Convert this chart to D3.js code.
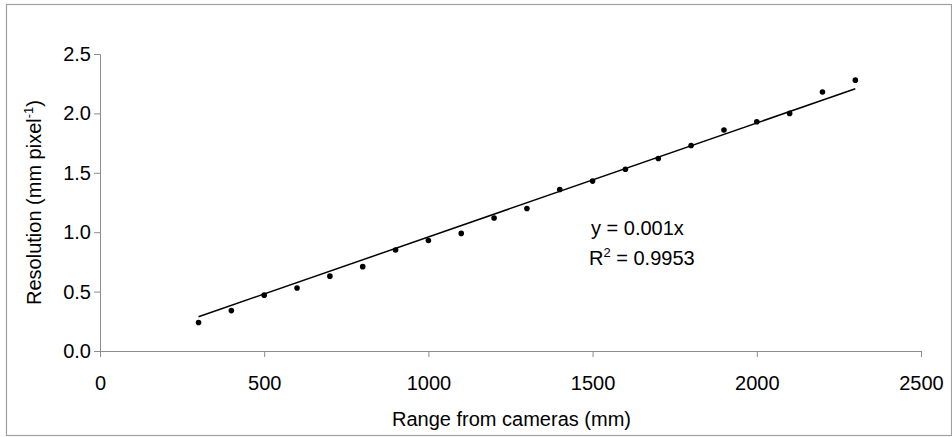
<!DOCTYPE html>
<html>
<head>
<meta charset="utf-8">
<script src="https://cdn.jsdelivr.net/npm/d3@7"></script>
<style>
  html, body { margin: 0; padding: 0; background: #fff; }
  svg text { font-family: "Liberation Sans", Arial, sans-serif; fill: #000; }
</style>
</head>
<body>
<div id="chart"></div>
<script>
// range from cameras (mm) and measured resolution (mm per pixel)
const ranges = [300, 400, 500, 600, 700, 800, 900, 1000, 1100, 1200, 1300,
                1400, 1500, 1600, 1700, 1800, 1900, 2000, 2100, 2200, 2300];
const resolution = [0.24, 0.34, 0.47, 0.53, 0.63, 0.71, 0.85, 0.93, 0.99, 1.12, 1.20,
                    1.36, 1.43, 1.53, 1.62, 1.73, 1.86, 1.93, 2.00, 2.18, 2.28];
const xTicks = [0, 500, 1000, 1500, 2000, 2500];
const yTicks = [0, 0.5, 1.0, 1.5, 2.0, 2.5];
const eqLabel = 'y = 0.001x';
const r2Label = '0.9953';

const width = 952;
const height = 437;
const axisColor = '#8c8c8c';

const svg = d3.select('#chart').append('svg')
  .attr('width', width)
  .attr('height', height);

// chart border
svg.append('rect')
  .attr('x', 6.5).attr('y', 4.5)
  .attr('width', 945).attr('height', 431)
  .attr('fill', 'none')
  .attr('stroke', '#a0a0a0')
  .attr('stroke-width', 1.2);

const x = d3.scaleLinear().domain([0, 2500]).range([100, 921]);
const y = d3.scaleLinear().domain([0, 2.5]).range([351, 54]);

// x axis
const xAxis = svg.append('g')
  .attr('transform', `translate(0, ${y(0)})`)
  .call(d3.axisBottom(x).tickValues(xTicks).tickSize(6).tickPadding(19).tickFormat(d3.format('d')));
xAxis.select('.domain').attr('stroke', axisColor);
xAxis.selectAll('.tick line').attr('stroke', axisColor);
xAxis.selectAll('.tick text').attr('font-size', 20).attr('dy', '0.71em');

// y axis
const yAxis = svg.append('g')
  .attr('transform', `translate(${x(0)}, 0)`)
  .call(d3.axisLeft(y).tickValues(yTicks).tickSize(6).tickPadding(3).tickFormat(d3.format('.1f')));
yAxis.select('.domain').attr('stroke', axisColor);
yAxis.selectAll('.tick line').attr('stroke', axisColor);
yAxis.selectAll('.tick text').attr('font-size', 20);

// axis titles
svg.append('text')
  .attr('x', (x(0) + x(2500)) / 2 + 1)
  .attr('y', 426)
  .attr('text-anchor', 'middle')
  .attr('font-size', 20)
  .text('Range from cameras (mm)');

const yTitle = svg.append('text')
  .attr('transform', `translate(41, ${(y(0) + y(2.5)) / 2}) rotate(-90)`)
  .attr('text-anchor', 'middle')
  .attr('font-size', 20);
yTitle.append('tspan').text('Resolution (mm pixel');
yTitle.append('tspan').attr('font-size', 13).attr('dy', -8).text('-1');
yTitle.append('tspan').attr('dy', 8).text(')');

// linear trend forced through the origin
const points = ranges.map((r, i) => ({ x: r, y: resolution[i] }));
const slope = d3.sum(points, d => d.x * d.y) / d3.sum(points, d => d.x * d.x);
const xExt = d3.extent(ranges);

svg.append('line')
  .attr('x1', x(xExt[0])).attr('y1', y(slope * xExt[0]))
  .attr('x2', x(xExt[1])).attr('y2', y(slope * xExt[1]))
  .attr('stroke', '#000')
  .attr('stroke-width', 1.5);

svg.append('g')
  .selectAll('circle')
  .data(points)
  .enter()
  .append('circle')
  .attr('cx', d => x(d.x))
  .attr('cy', d => y(d.y))
  .attr('r', 2.8)
  .attr('fill', '#000');

// trendline equation
svg.append('text')
  .attr('x', 591).attr('y', 235)
  .attr('font-size', 20)
  .text(eqLabel);

const r2 = svg.append('text')
  .attr('x', 589).attr('y', 265)
  .attr('font-size', 20);
r2.append('tspan').text('R');
r2.append('tspan').attr('font-size', 13).attr('dy', -8).text('2');
r2.append('tspan').attr('dy', 8).text(' = ' + r2Label);
</script>
</body>
</html>
